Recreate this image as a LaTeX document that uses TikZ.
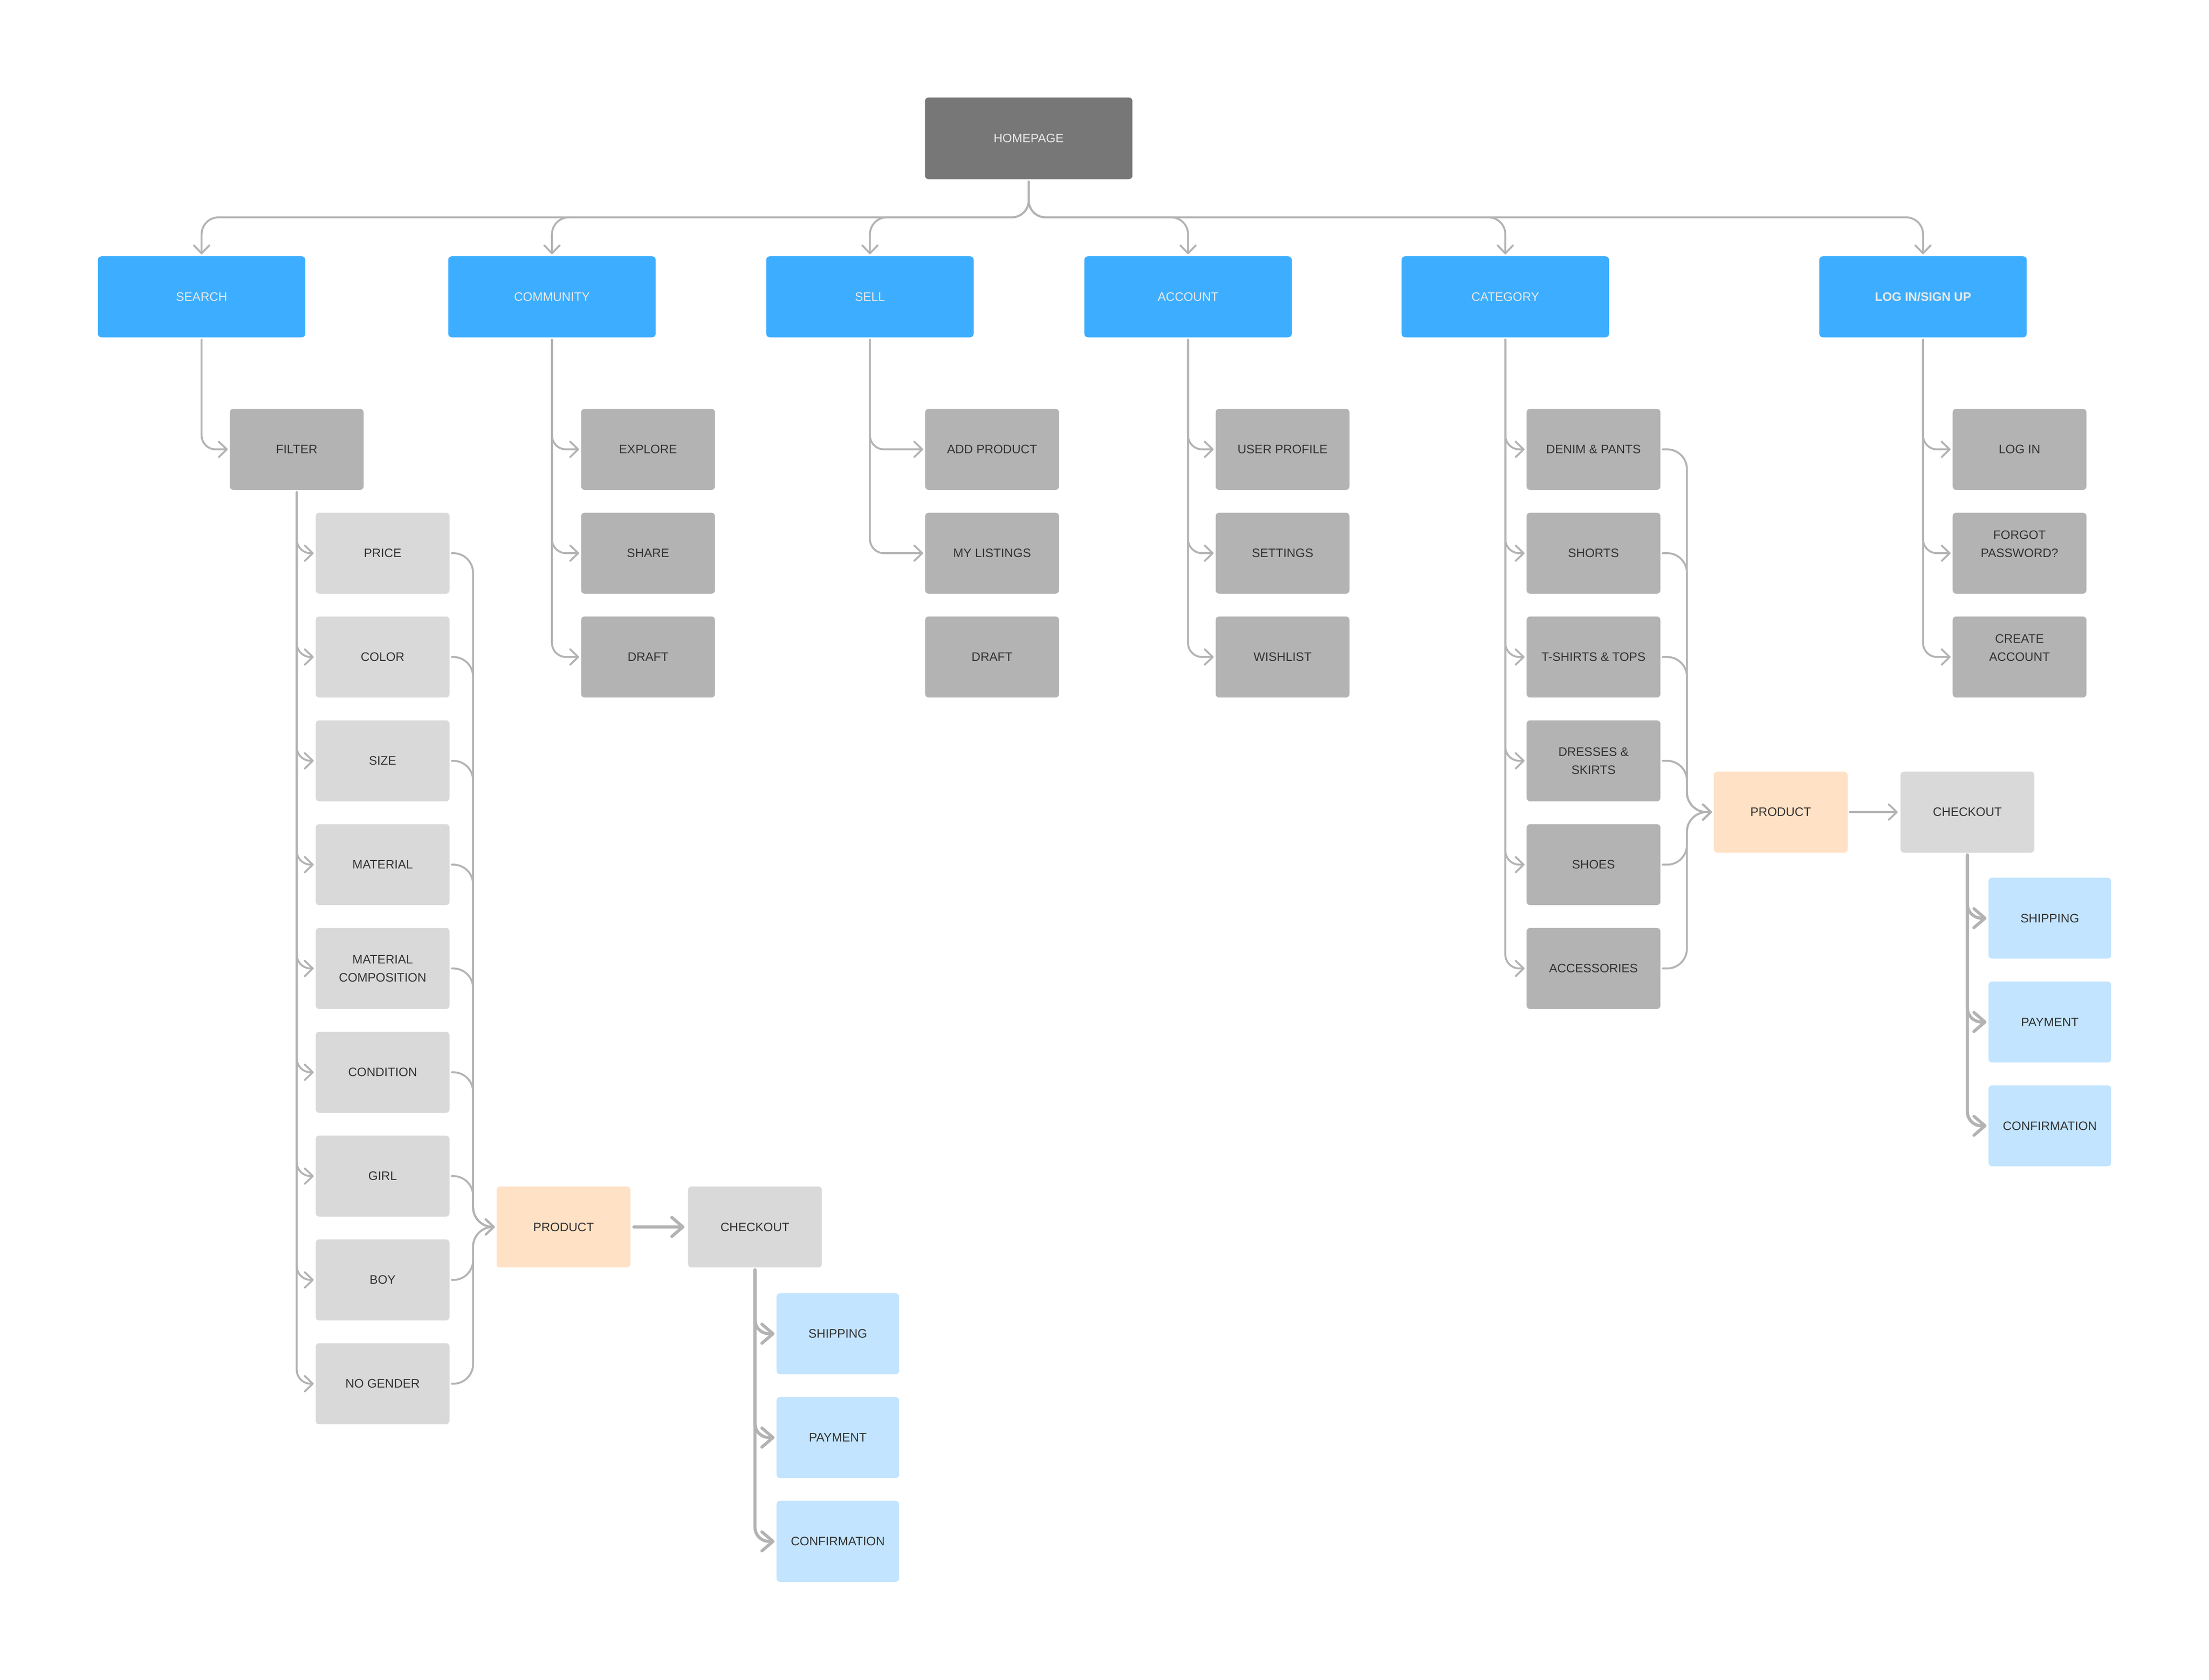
\documentclass[tikz,border=0pt]{standalone}
\usepackage{fontspec}
\setmainfont{Liberation Sans}
\usetikzlibrary{arrows.meta}

\definecolor{homegray}{HTML}{777777}
\definecolor{mainblue}{HTML}{3DAEFF}
\definecolor{midgray}{HTML}{B3B3B3}
\definecolor{optgray}{HTML}{D9D9D9}
\definecolor{peach}{HTML}{FFE1C5}
\definecolor{paleblue}{HTML}{C2E4FF}
\definecolor{linegray}{HTML}{B3B3B3}
\definecolor{inkgray}{HTML}{333333}
\definecolor{paletext}{HTML}{E8E8E8}

\tikzset{
	card/.style={rectangle, rounded corners=1.8pt, inner sep=0pt, outer sep=0pt, minimum height=1.4375cm, align=center, font=\fontsize{6.2}{9.2}\selectfont, text=inkgray},
	homebox/.style={card, fill=homegray, minimum width=3.68cm, minimum height=1.45cm, text=paletext},
	mainbox/.style={card, fill=mainblue, minimum width=3.68cm, text=paletext},
	subbox/.style={card, fill=midgray, minimum width=2.375cm},
	optbox/.style={card, fill=optgray, minimum width=2.375cm},
	prodbox/.style={card, fill=peach, minimum width=2.375cm},
	paybox/.style={card, fill=paleblue, minimum width=2.175cm},
	link/.style={draw=linegray, line width=0.96pt, line cap=round, rounded corners=0.25cm, shorten <=1.2pt, shorten >=1pt, -{Straight Barb[length=4pt,width=7.7pt,round]}},
	buslink/.style={link, rounded corners=0.3cm},
	mergelink/.style={link, rounded corners=0.35cm},
	biglink/.style={link, line width=1.56pt, -{Straight Barb[length=5.6pt,width=9.6pt,round]}},
}

\begin{document}
\begin{tikzpicture}[x=0.025cm, y=-0.025cm]
			%%%%% START %%%%%
			
			\useasboundingbox (0, 0) rectangle (1568, 1192.37);
			
			\node[homebox] (home) at (730.2, 98.2) {HOMEPAGE};
			
			\node[mainbox] (search) at (143.1, 210.7) {SEARCH};
			\node[mainbox] (community) at (391.8, 210.7) {COMMUNITY};
			\node[mainbox] (sell) at (617.5, 210.7) {SELL};
			\node[mainbox] (account) at (843.3, 210.7) {ACCOUNT};
			\node[mainbox] (category) at (1068.5, 210.7) {CATEGORY};
			\node[mainbox] (login) at (1365, 210.7) {\bfseries LOG IN/SIGN UP};
			
			\coordinate (bus) at (730.2, 154.3);
			\draw[buslink] (home.south) -- (bus) -| (search.north);
			\draw[buslink] (home.south) -- (bus) -| (community.north);
			\draw[buslink] (home.south) -- (bus) -| (sell.north);
			\draw[buslink] (home.south) -- (bus) -| (account.north);
			\draw[buslink] (home.south) -- (bus) -| (category.north);
			\draw[buslink] (home.south) -- (bus) -| (login.north);
			
			% search
			\node[subbox] (filter) at (210.6, 319) {FILTER};
			\draw[link] (search.south) |- (filter.west);
			
			\node[optbox] (price) at (271.6, 392.7) {PRICE};
			\node[optbox] (color) at (271.6, 466.4) {COLOR};
			\node[optbox] (size) at (271.6, 540.1) {SIZE};
			\node[optbox] (material) at (271.6, 613.8) {MATERIAL};
			\node[optbox] (composition) at (271.6, 687.5) {MATERIAL\\COMPOSITION};
			\node[optbox] (condition) at (271.6, 761.2) {CONDITION};
			\node[optbox] (girl) at (271.6, 834.9) {GIRL};
			\node[optbox] (boy) at (271.6, 908.6) {BOY};
			\node[optbox] (nogender) at (271.6, 982.3) {NO GENDER};
			
			\draw[link] (filter.south) |- (price.west);
			\draw[link] (filter.south) |- (color.west);
			\draw[link] (filter.south) |- (size.west);
			\draw[link] (filter.south) |- (material.west);
			\draw[link] (filter.south) |- (composition.west);
			\draw[link] (filter.south) |- (condition.west);
			\draw[link] (filter.south) |- (girl.west);
			\draw[link] (filter.south) |- (boy.west);
			\draw[link] (filter.south) |- (nogender.west);
			
			\node[prodbox] (product) at (400, 871) {PRODUCT};
			\node[optbox] (checkout) at (535.9, 871) {CHECKOUT};
			
			\coordinate (fbar) at (335.8, 871);
			\draw[mergelink] (price.east) -| (fbar) -- (product.west);
			\draw[mergelink] (color.east) -| (fbar) -- (product.west);
			\draw[mergelink] (size.east) -| (fbar) -- (product.west);
			\draw[mergelink] (material.east) -| (fbar) -- (product.west);
			\draw[mergelink] (composition.east) -| (fbar) -- (product.west);
			\draw[mergelink] (condition.east) -| (fbar) -- (product.west);
			\draw[mergelink] (girl.east) -| (fbar) -- (product.west);
			\draw[mergelink] (boy.east) -| (fbar) -- (product.west);
			\draw[mergelink] (nogender.east) -| (fbar) -- (product.west);
			
			\draw[biglink, shorten <=1.7pt, shorten >=1.8pt] (product.east) -- (checkout.west);
			
			\node[paybox] (shipping) at (594.7, 946.8) {SHIPPING};
			\node[paybox] (payment) at (594.7, 1020.5) {PAYMENT};
			\node[paybox] (confirmation) at (594.7, 1094.2) {CONFIRMATION};
			
			\draw[biglink] (checkout.south) |- (shipping.west);
			\draw[biglink] (checkout.south) |- (payment.west);
			\draw[biglink] (checkout.south) |- (confirmation.west);
			
			% community
			\node[subbox] (explore) at (460, 319) {EXPLORE};
			\node[subbox] (share) at (460, 392.7) {SHARE};
			\node[subbox] (cdraft) at (460, 466.4) {DRAFT};
			\draw[link] (community.south) |- (explore.west);
			\draw[link] (community.south) |- (share.west);
			\draw[link] (community.south) |- (cdraft.west);
			
			% sell
			\node[subbox] (addproduct) at (704.2, 319) {ADD PRODUCT};
			\node[subbox] (listings) at (704.2, 392.7) {MY LISTINGS};
			\node[subbox] (sdraft) at (704.2, 466.4) {DRAFT};
			\draw[link] (sell.south) |- (addproduct.west);
			\draw[link] (sell.south) |- (listings.west);
			
			% account
			\node[subbox] (profile) at (910.4, 319) {USER PROFILE};
			\node[subbox] (settings) at (910.4, 392.7) {SETTINGS};
			\node[subbox] (wishlist) at (910.4, 466.4) {WISHLIST};
			\draw[link] (account.south) |- (profile.west);
			\draw[link] (account.south) |- (settings.west);
			\draw[link] (account.south) |- (wishlist.west);
			
			% category
			\node[subbox] (denim) at (1131.1, 319) {DENIM \& PANTS};
			\node[subbox] (shorts) at (1131.1, 392.7) {SHORTS};
			\node[subbox] (tshirts) at (1131.1, 466.4) {T-SHIRTS \& TOPS};
			\node[subbox] (dresses) at (1131.1, 540.1) {DRESSES \&\\SKIRTS};
			\node[subbox] (shoes) at (1131.1, 613.8) {SHOES};
			\node[subbox] (accessories) at (1131.1, 687.5) {ACCESSORIES};
			
			\draw[link] (category.south) |- (denim.west);
			\draw[link] (category.south) |- (shorts.west);
			\draw[link] (category.south) |- (tshirts.west);
			\draw[link] (category.south) |- (dresses.west);
			\draw[link] (category.south) |- (shoes.west);
			\draw[link] (category.south) |- (accessories.west);
			
			\node[prodbox] (catproduct) at (1264, 576.5) {PRODUCT};
			\node[optbox] (catcheckout) at (1396.5, 576.5) {CHECKOUT};
			
			\coordinate (cbar) at (1197.4, 576.5);
			\draw[mergelink] (denim.east) -| (cbar) -- (catproduct.west);
			\draw[mergelink] (shorts.east) -| (cbar) -- (catproduct.west);
			\draw[mergelink] (tshirts.east) -| (cbar) -- (catproduct.west);
			\draw[mergelink] (dresses.east) -| (cbar) -- (catproduct.west);
			\draw[mergelink] (shoes.east) -| (cbar) -- (catproduct.west);
			\draw[mergelink] (accessories.east) -| (cbar) -- (catproduct.west);
			
			\draw[link, shorten <=1.1pt, shorten >=1.4pt] (catproduct.east) -- (catcheckout.west);
			
			\node[paybox] (catshipping) at (1455, 651.8) {SHIPPING};
			\node[paybox] (catpayment) at (1455, 725.5) {PAYMENT};
			\node[paybox] (catconfirmation) at (1455, 799.2) {CONFIRMATION};
			
			\draw[biglink] (catcheckout.south) |- (catshipping.west);
			\draw[biglink] (catcheckout.south) |- (catpayment.west);
			\draw[biglink] (catcheckout.south) |- (catconfirmation.west);
			
			% log in
			\node[subbox] (loginbox) at (1433.5, 319) {LOG IN};
			\node[subbox] (forgot) at (1433.5, 392.7) {FORGOT\\PASSWORD?\\~};
			\node[subbox] (create) at (1433.5, 466.4) {CREATE\\ACCOUNT\\~};
			\draw[link] (login.south) |- (loginbox.west);
			\draw[link] (login.south) |- (forgot.west);
			\draw[link] (login.south) |- (create.west);
			
			%%%%% END %%%%%
\end{tikzpicture}
\end{document}
